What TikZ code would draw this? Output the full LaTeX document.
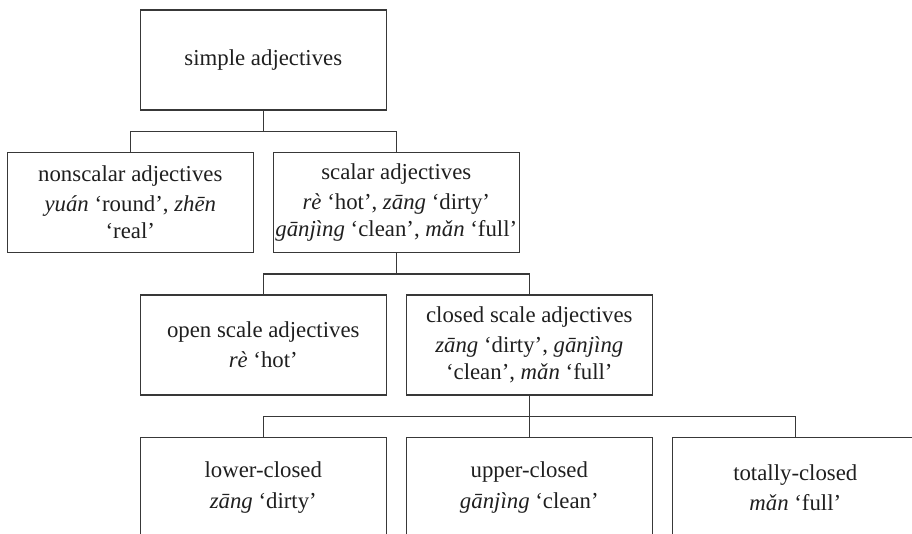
\documentclass[tikz,border=0pt]{standalone}
\usepackage{fontspec}
\setmainfont{Liberation Serif}
\usepackage{tikz}
\usetikzlibrary{positioning}
\usepackage{xcolor}
\definecolor{LineGray}{gray}{0.22}
\definecolor{TextBlack}{gray}{0.12}
\tikzset{%
  category_block/.style={%
    rectangle,%
    draw=LineGray,%
    line width=0.6pt,%
    minimum width=123pt,%
    minimum height=50pt,%
    inner sep=0pt,%
    outer sep=0pt,%
    text=TextBlack,%
    font={\fontsize{11.4pt}{13.6pt}\selectfont},%
    align=center%
  },
  tree_path/.style={%
    color=LineGray,%
    line width=0.6pt,%
    line join=miter%
  },
}

\begin{document}
\begin{tikzpicture}[x=0.5pt, y=0.5pt]

    \coordinate (frame_nw) at (-263.3, 60);
    \coordinate (frame_se) at (648.7, -474);
    \useasboundingbox (frame_nw) rectangle (frame_se);
    \clip (frame_nw) rectangle (frame_se);

    \node [category_block] (simple) at (0, 0) {simple adjectives};
    \node [category_block, below = 42.5 of simple, xshift = -66.5pt] (nonscalar)
      {nonscalar adjectives\\[1.5pt]\textit{yuán} ‘round’, \textit{zhēn}\\‘real’};
    \node [category_block, right = 20 of nonscalar] (scalar)
      {scalar adjectives\\[1.5pt]\textit{rè} ‘hot’, \textit{zāng} ‘dirty’\\\textit{gānjìng} ‘clean’, \textit{mǎn} ‘full’};
    \node [category_block, below = 42.5 of scalar, xshift = -66.5pt] (open_scale)
      {open scale adjectives\\[1.5pt]\textit{rè} ‘hot’};
    \node [category_block, right = 20 of open_scale] (closed_scale)
      {closed scale adjectives\\[1.5pt]\textit{zāng} ‘dirty’, \textit{gānjìng}\\‘clean’, \textit{mǎn} ‘full’};
    \node [category_block, below = 42.5 of closed_scale, xshift = -133pt] (lower)
      {lower-closed\\[1.5pt]\textit{zāng} ‘dirty’};
    \node [category_block, right = 20 of lower] (upper)
      {upper-closed\\[1.5pt]\textit{gānjìng} ‘clean’};
    \node [category_block, right = 20 of upper] (totally)
      {totally-closed\\[1.5pt]\textit{mǎn} ‘full’};

    \coordinate [below = 21.5 of simple.south] (simple_fork);
    \coordinate [below = 21.5 of scalar.south] (scalar_fork);
    \coordinate [below = 21.5 of closed_scale.south] (closed_fork);

    \draw [tree_path] (simple.south) -- (simple_fork);
    \draw [tree_path]
      (nonscalar.north)
      |-
      (simple_fork)
      -|
      (scalar.north);
    \draw [tree_path] (scalar.south) -- (scalar_fork);
    \draw [tree_path]
      (open_scale.north)
      |-
      (scalar_fork)
      -|
      (closed_scale.north);
    \draw [tree_path] (closed_scale.south) -- (upper.north);
    \draw [tree_path]
      (lower.north)
      |-
      (closed_fork)
      -|
      (totally.north);
  \end{tikzpicture}
\end{document}
